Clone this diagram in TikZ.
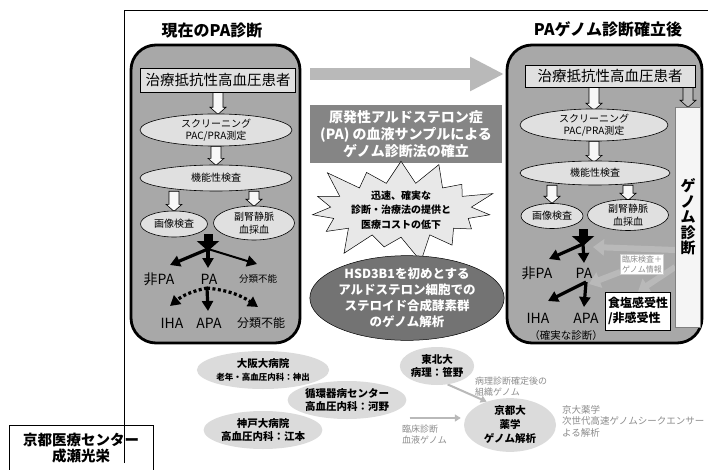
\documentclass[tikz,border=0pt]{standalone}
\usepackage{fontspec}
\setmainfont{Noto Sans CJK JP}
\usetikzlibrary{shapes.geometric,shapes.symbols,arrows.meta,calc}
\newcommand\myfs[2]{\fontsize{#1}{#2}\selectfont}
\pgfdeclarelayer{bg}\pgfdeclarelayer{arr}\pgfsetlayers{bg,arr,main}
\definecolor{panelgray}{gray}{0.66}
\definecolor{lightfill}{gray}{0.88}
\definecolor{midbox}{gray}{0.52}
\definecolor{darkell}{gray}{0.45}
\definecolor{notegray}{gray}{0.55}
\tikzset{
 panel/.style={draw, line width=2.8pt, fill=panelgray, rounded corners=25pt},
 ttl/.style={inner sep=0pt, font=\myfs{16}{18}\bfseries},
 topbox/.style={draw, line width=0.6pt, fill=lightfill, inner sep=1pt, font=\myfs{14.5}{16}},
 ell/.style={ellipse, draw, line width=0.6pt, fill=lightfill, inner sep=0pt, align=center, font=\myfs{10}{12.5}},
 lab/.style={inner sep=1pt, font=\myfs{14}{16}},
 slab/.style={inner sep=1pt, font=\myfs{9.5}{11}},
 blkarr/.style={line width=9pt, -{Triangle[length=10pt,width=22pt]}},
 barr/.style={line width=3.2pt, -{Triangle[length=10pt,width=11pt]}},
 dotarr/.style={line width=3.2pt, dash pattern=on 3pt off 2.5pt, -{Triangle[length=10pt,width=11pt]}},
 garr/.style={line width=6pt, draw=gray!55, -{Triangle[length=11pt,width=16pt]}},
 bigarr/.style={line width=12pt, draw=gray!55, -{Triangle[length=34pt,width=32pt]}},
 ngarr/.style={line width=2pt, draw=gray!55, -{Triangle[length=6pt,width=7pt]}},
 bell/.style={ellipse, fill=gray!28, inner sep=0pt, align=center, font=\myfs{10.5}{13}\bfseries},
 note/.style={anchor=north west, align=left, text=notegray, inner sep=0pt, font=\myfs{9}{11}},
 pics/harrow/.style={code={\draw[line width=0.6pt, fill=gray!6] (-5,0) -- (5,0) -- (5,{#1-7}) -- (8,{#1-7}) -- (0,#1) -- (-8,{#1-7}) -- (-5,{#1-7}) -- cycle;}},
 pics/gharrow/.style={code={\draw[line width=0.6pt, fill=gray!55] (-5,0) -- (5,0) -- (5,{#1-7}) -- (8,{#1-7}) -- (0,#1) -- (-8,{#1-7}) -- (-5,{#1-7}) -- cycle;}}
}
\begin{document}
\begin{tikzpicture}[x=1pt,y=-1pt]
\useasboundingbox (0,0) rectangle (708,470);
\begin{pgfonlayer}{bg}
\fill[white] (0,0) rectangle (708,470);
\draw[line width=0.7pt] (124,463) -- (124,10) -- (708,10);
\node[panel, minimum width=169pt, minimum height=298pt] (LP) at (215.5,194) {};
\node[panel, minimum width=195pt, minimum height=298pt] (RP) at (604.5,194) {};
\end{pgfonlayer}

% titles
\node[ttl] (LT) at (212,30) {現在のPA診断};
\node[ttl] (RT) at (608,29) {PAゲノム診断確立後};

% left panel
\node[topbox, minimum width=155pt, minimum height=24pt] (L1) at (218,80) {治療抵抗性高血圧患者};
\node[ell, minimum width=152pt, minimum height=32pt] (L2) at (216,130) {スクリーニング\\PAC/PRA測定};
\node[ell, minimum width=152pt, minimum height=26pt] (L3) at (216,178) {機能性検査};
\node[ell, minimum width=67pt, minimum height=26pt] (L4) at (174,224) {画像検査};
\node[ell, minimum width=81pt, minimum height=34pt] (L5) at (254,223) {副腎静脈\\血採血};
\coordinate (LB) at (208,234);
\coordinate (LJ) at (208,251);
\node[lab] (LNPA) at (159,279) {非PA};
\node[lab] (LPA) at (209,279) {PA};
\node[slab] (LUN) at (258,279) {分類不能};
\coordinate (LtN) at (170,265);
\coordinate (LtP) at (208,268);
\coordinate (LtU) at (257,264);
\coordinate (LA) at (207,288);
\coordinate (LtI) at (170,306);
\coordinate (LtD) at (258,307);
\coordinate (LtA) at (208,311);
\node[lab] (LIHA) at (172,323) {IHA};
\node[lab] (LAPA) at (209,323) {APA};
\node[lab, font=\myfs{12}{14}] (LUN2) at (261,323) {分類不能};

% middle
\coordinate (BA1) at (310,74);
\coordinate (BA2) at (504,74);
\node[fill=midbox, minimum width=192pt, minimum height=58pt, inner sep=0pt, align=center, text=white, font=\myfs{14}{17}\bfseries] (MB) at (406,134) {原発性アルドステロン症\\(PA) の血液サンプルによる\\ゲノム診断法の確立};
\node[starburst, starburst points=15, starburst point height=30pt, draw, line width=0.5pt, fill=gray!18, minimum width=190pt, minimum height=108pt, inner sep=0pt, align=center, font=\myfs{10}{14.5}\bfseries] (SB) at (401,210) {迅速、確実な\\診断・治療法の提供と\\医療コストの低下};
\node[ellipse, draw, line width=0.5pt, fill=darkell, minimum width=172pt, minimum height=80pt, inner sep=0pt, align=center, text=white, font=\myfs{12.5}{16}\bfseries] (DE) at (407,298) {HSD3B1を初めとする\\アルドステロン細胞での\\ステロイド合成酵素群\\のゲノム解析};

% right panel
\node[topbox, minimum width=170pt, minimum height=22pt] (R1) at (610,76) {治療抵抗性高血圧患者};
\node[ell, minimum width=148pt, minimum height=30pt] (R2) at (594,125) {スクリーニング\\PAC/PRA測定};
\node[ell, minimum width=150pt, minimum height=24pt] (R3) at (595,173) {機能性検査};
\node[ell, minimum width=62pt, minimum height=25pt] (R4) at (552,216) {画像検査};
\node[ell, minimum width=81pt, minimum height=31pt] (R5) at (628,215) {副腎静脈\\血採血};
\node[draw=gray, line width=0.6pt, fill=gray!8, minimum width=25pt, minimum height=220pt, inner sep=0pt, align=center, font=\myfs{15}{15.5}\bfseries] (G) at (688,217) {ゲ\\ノ\\ム\\診\\断};
\coordinate (RB) at (583,229);
\coordinate (RJ) at (583,246);
\node[lab] (RNPA) at (537,273) {非PA};
\node[lab] (RPA) at (584,273) {PA};
\coordinate (RtN) at (549,259);
\coordinate (RtP) at (584,263);
\coordinate (RJ2) at (586,282);
\coordinate (RtI) at (548,301);
\coordinate (RtA) at (584,307);
\node[lab] (RIHA) at (538,318) {IHA};
\node[lab] (RAPA) at (586,318) {APA};
\node[inner sep=0pt, font=\myfs{10.5}{12}] (RSURE) at (566,336) {（確実な診断）};
\node[draw=gray!40, fill=white, inner sep=1.5pt, align=center, text=notegray, font=\myfs{8}{10}] (CL) at (642,264) {臨床検査＋\\ゲノム情報};
\node[draw, line width=0.8pt, fill=white, minimum width=65pt, minimum height=38pt, inner sep=2pt, align=left, font=\myfs{12}{15}\bfseries] (SALT) at (638,311) {食塩感受性\\/非感受性};

% bottom
\node[bell, minimum width=108pt, minimum height=38pt] (OS) at (263,370) {大阪大病院\\{\myfs{8.5}{11}\bfseries 老年・高血圧内科：神出}};
\node[bell, minimum width=106pt, minimum height=38pt] (JK) at (347,400) {循環器病センター\\高血圧内科：河野};
\node[bell, minimum width=106pt, minimum height=38pt] (KB) at (263,430) {神戸大病院\\高血圧内科：江本};
\node[bell, minimum width=66pt, minimum height=38pt] (TH) at (437,366) {東北大\\病理：笹野};
\node[bell, minimum width=92pt, minimum height=52pt, font=\myfs{10.5}{14}\bfseries] (KY) at (510,425) {京都大\\薬学\\ゲノム解析};
\node[note] (N1) at (475,377) {病理診断確定後の\\組織ゲノム};
\node[note] (N2) at (402,425) {臨床診断\\血液ゲノム};
\node[note, font=\myfs{9.5}{11.5}] (N3) at (562,405) {京大薬学\\次世代高速ゲノムシークエンサー\\よる解析};
\node[draw, line width=0.7pt, minimum width=144pt, minimum height=60pt, anchor=north west, inner sep=0pt] (KMB) at (9,425) {};
\node[inner sep=0pt, align=center, font=\myfs{14.5}{16}\bfseries] (KMT) at (81,448) {京都医療センター\\成瀬光栄};

% connectors
\begin{pgfonlayer}{arr}
\draw[bigarr] (BA1) -- (BA2);
\pic at (L1.south) {harrow=22};
\pic at (L2.south) {harrow=19};
\pic at (L4.north |- L3.south) {harrow=20};
\pic at (L5.north |- L3.south) {harrow=15};
\draw[blkarr] (LB) -- (LJ);
\draw[barr] ([yshift=2pt]LJ) -- (LtN);
\draw[barr] ([yshift=2pt]LJ) -- (LtP);
\draw[barr, line width=2pt] ([yshift=2pt]LJ) -- (LtU);
\draw[dotarr] (LA) to[bend right=14] (LtI);
\draw[dotarr] (LA) to[bend left=14] (LtD);
\draw[barr] (LA) -- (LtA);
\pic at (R2.north |- R1.south) {harrow=23};
\pic at (R2.south) {harrow=21};
\pic at (R4.north |- R3.south) {harrow=18};
\pic at (R5.north |- R3.south) {harrow=15};
\pic at (G.north |- R1.south) {gharrow=20};
\draw[blkarr] (RB) -- (RJ);
\draw[barr] ([yshift=2pt]RJ) -- (RtN);
\draw[barr] ([yshift=2pt]RJ) -- (RtP);
\draw[barr] (RJ2) -- (RtI);
\draw[barr] (RJ2) -- (RtA);
\draw[garr] ($(G.west)+(0,33)$) -- ($(RJ)+(10,1)$);
\draw[garr] ($(CL.west)+(0,8)$) -- ($(RJ2)+(3,2)$);
\draw[garr] ($(G.west)+(0,50)$) -- (SALT.north);
\draw[ngarr] ($(JK.east)+(3,18)$) -- ($(KY.west)+(-3,-7)$);
\draw[ngarr] (TH.-60) -- (KY.135);
\end{pgfonlayer}
\end{tikzpicture}
\end{document}
